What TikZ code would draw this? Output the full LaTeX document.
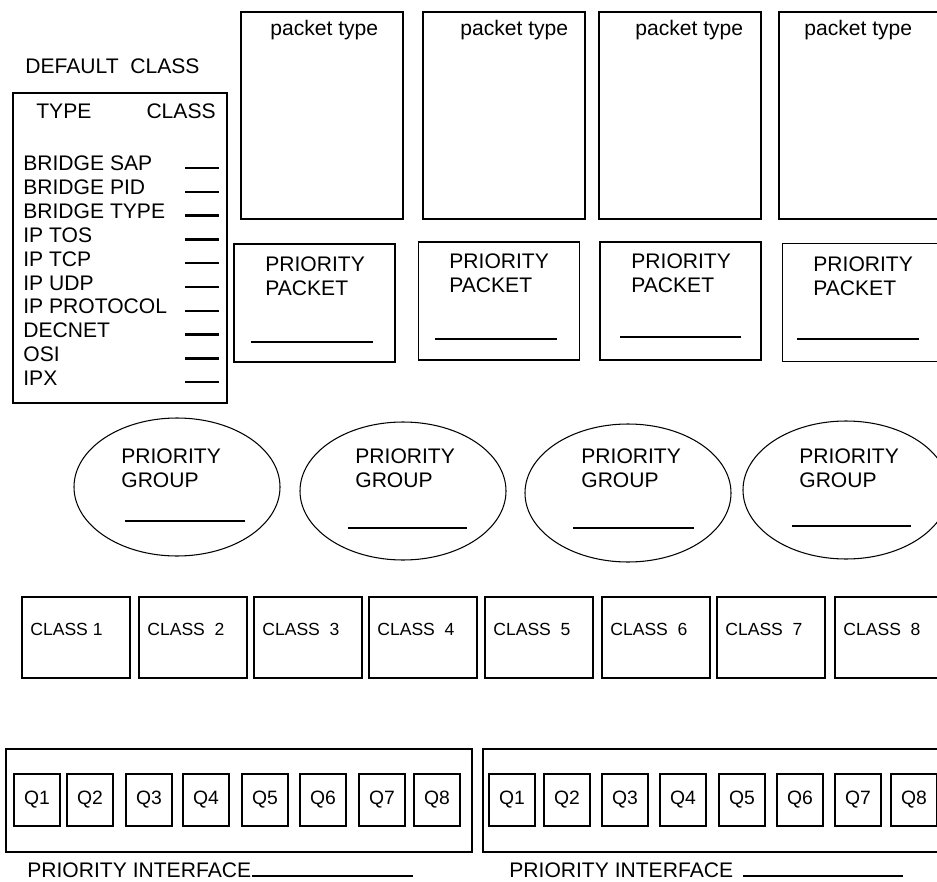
\documentclass[tikz,border=0pt]{standalone}
\usepackage{fontspec}
\setmainfont{Liberation Sans}
\usetikzlibrary{positioning,shapes.geometric}

\begin{document}
\begin{tikzpicture}[x=0.02cm,y=-0.02cm,
    box/.style={draw,line width=0.6pt,inner sep=0pt},
    wd/.style={minimum width=#1*0.02cm},
    ht/.style={minimum height=#1*0.02cm},
    txt/.style={inner sep=0pt,anchor=base west,font=\fontsize{12}{13.7}\selectfont},
    small/.style={inner sep=0pt,font=\fontsize{10}{12}\selectfont},
    fillin/.style={line width=1.3pt}]
  \useasboundingbox (0,0) rectangle (937,882);
  \clip (0,0) rectangle (937,882);

  % default class table
  \node[txt] (dtitle) at (25,74) {DEFAULT\ \ CLASS};
  \node[box,wd=214,ht=310] (defbox) at (120,248) {};
  \node[txt] (dtype) at (36,119) {TYPE};
  \node[txt,anchor=base east] (dclass) at (216,119) {CLASS};
  \foreach \t [count=\i] in {BRIDGE SAP,BRIDGE PID,BRIDGE TYPE,IP TOS,IP TCP,IP UDP,IP PROTOCOL,DECNET,OSI,IPX}{
    \node[txt] (dt\i) at (23,{171+(\i-1)*23.8}) {\t};
    \draw[fillin] (185,{168+(\i-1)*23.8}) -- (219,{168+(\i-1)*23.8});
  }

  % packet type
  \foreach \cx/\tx [count=\i] in {322/270,504/460,680/635,860/804}{
    \node[box,wd=162,ht=207] (pt\i) at (\cx,115.5) {};
    \node[txt] (ptl\i) at (\tx,36) {packet type};
  }

  % priority packet
  \foreach \cx/\cy/\tx/\ty/\ua/\ub/\uy [count=\i] in {314.5/303/265/256/251/373/342,499/301/449/253/435/557/339,680.5/301/631/253/620/741/337,863/302.5/813/256/797/919/339}{
    \node[box,wd=161,ht=118] (pp\i) at (\cx,\cy) {};
    \node[txt,align=left,anchor=north west] (ppl\i) at (\tx,\ty) {PRIORITY\\PACKET};
    \draw[fillin] (\ua,\uy) -- (\ub,\uy);
  }

  % priority group
  \foreach \cx/\cy/\tx/\ua/\ub/\uy [count=\i] in {177/487/121/125/245/521,403/491/355/348/467/528,628/493/581/573/694/528,846/490/799/792/911/526}{
    \node[box,ellipse,wd=206,ht=138] (pg\i) at (\cx,\cy) {};
    \node[txt,align=left,anchor=north west] (pgl\i) at (\tx,448) {PRIORITY\\GROUP};
    \draw[fillin] (\ua,\uy) -- (\ub,\uy);
  }

  % classes
  \foreach \l/\t [count=\i] in {22/{CLASS 1},139/{CLASS\ \ 2},254/{CLASS\ \ 3},369/{CLASS\ \ 4},485/{CLASS\ \ 5},602/{CLASS\ \ 6},717/{CLASS\ \ 7},835/{CLASS\ \ 8}}{
    \node[box,wd=108,ht=81] (cl\i) at (\l+54,637.5) {};
    \node[small,anchor=base west] (cll\i) at (\l+8,635) {\t};
  }

  % interfaces and queues
  \node[box,wd=466,ht=103] (ifa) at (239,800.5) {};
  \node[box,wd=467,ht=103] (ifb) at (716.5,800.5) {};
  \foreach \l [count=\i] in {14,67,126,183,242,300,359,414}
    \node[box,wd=46,ht=52,font=\fontsize{11}{12}\selectfont] (qa\i) at (\l+23,800) {Q\i};
  \foreach \l [count=\i] in {489,544,602,660,719,777,835,891}
    \node[box,wd=46,ht=52,font=\fontsize{11}{12}\selectfont] (qb\i) at (\l+23,800) {Q\i};

  \node[txt] (pia) at (27,877) {PRIORITY INTERFACE};
  \draw[fillin] (252,876) -- (413,876);
  \node[txt] (pib) at (509,877) {PRIORITY INTERFACE};
  \draw[fillin] (743,876) -- (903,876);
\end{tikzpicture}
\end{document}
